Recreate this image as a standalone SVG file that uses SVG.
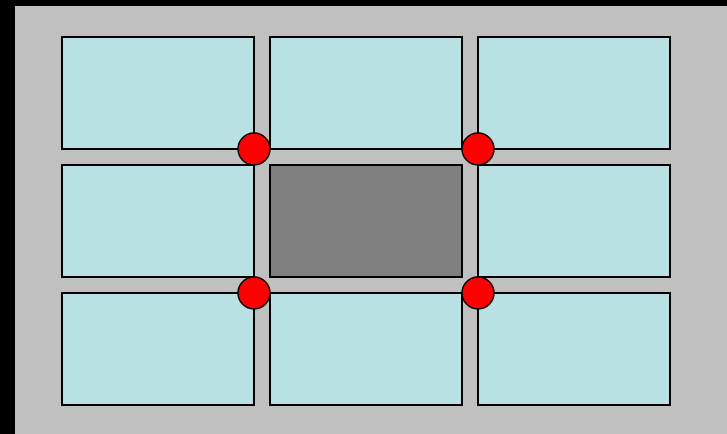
<svg xmlns="http://www.w3.org/2000/svg" width="727" height="434" viewBox="0 0 727 434">
<style>
.cell{fill:#b9e0e3;stroke:#000;stroke-width:2}
.mid{fill:#808080;stroke:#000;stroke-width:2}
.dot{fill:#ff0000;stroke:#000;stroke-width:1.5}
</style>
<rect x="0" y="0" width="727" height="434" fill="#000"/>
<rect x="15" y="6" width="712" height="428" fill="#c0c0c0"/>
<g id="c11"><rect class="cell" x="62" y="37" width="192" height="112"/></g>
<g id="c12"><rect class="cell" x="270" y="37" width="192" height="112"/></g>
<g id="c13"><rect class="cell" x="478" y="37" width="192" height="112"/></g>
<g id="c21"><rect class="cell" x="62" y="165" width="192" height="112"/></g>
<g id="c22"><rect class="mid" x="270" y="165" width="192" height="112"/></g>
<g id="c23"><rect class="cell" x="478" y="165" width="192" height="112"/></g>
<g id="c31"><rect class="cell" x="62" y="293" width="192" height="112"/></g>
<g id="c32"><rect class="cell" x="270" y="293" width="192" height="112"/></g>
<g id="c33"><rect class="cell" x="478" y="293" width="192" height="112"/></g>
<g id="connectors"></g>
<g id="d1"><circle class="dot" cx="254" cy="149" r="16"/></g>
<g id="d2"><circle class="dot" cx="478" cy="149" r="16"/></g>
<g id="d3"><circle class="dot" cx="254" cy="293" r="16"/></g>
<g id="d4"><circle class="dot" cx="478" cy="293" r="16"/></g>
</svg>
